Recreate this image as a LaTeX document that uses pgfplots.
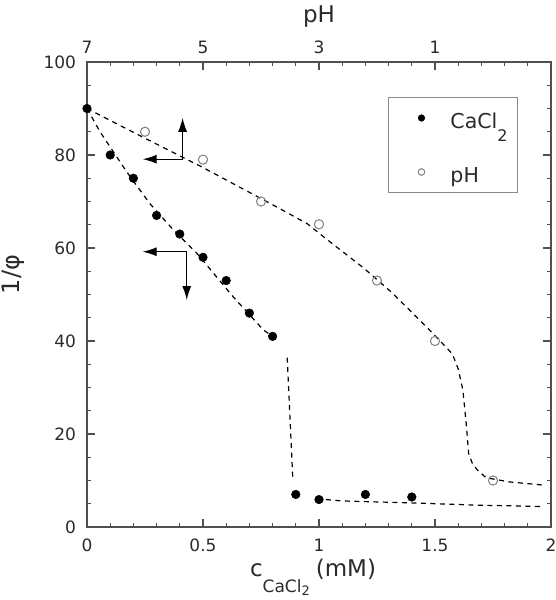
\documentclass[border=0pt]{standalone}
\usepackage{pgfplots}
\pgfplotsset{compat=1.18}
\usepackage{fontspec}
\setmainfont{DejaVu Sans}
\usetikzlibrary{arrows.meta}
\definecolor{axisgray}{HTML}{505050}
\definecolor{labelgray}{HTML}{2A2A2A}
\definecolor{circgray}{HTML}{808080}
\definecolor{leggray}{HTML}{8A8A8A}
\begin{document}
\begin{tikzpicture}
\begin{axis}[name=main,
  scale only axis, width=464pt, height=465pt,
  xmin=0, xmax=2, ymin=0, ymax=100,
  xtick={0,0.5,1,1.5,2}, xticklabels={0,0.5,1,1.5,2},
  minor xtick={0,0.1,...,2.01},
  ytick={0,20,40,60,80,100}, yticklabels={0,20,40,60,80,100},
  minor ytick={0,5,...,100},
  axis line style={line width=1.3pt, color=axisgray},
  major tick length=8pt, minor tick length=4.5pt,
  every tick/.style={line width=1.1pt, color=axisgray},
  tick label style={font=\fontsize{17}{18}\selectfont, text=labelgray},
  xticklabel style={yshift=-8.5pt},
  yticklabel style={xshift=-7.5pt},
  xlabel={c\raisebox{-16pt}{\fontsize{17}{17}\selectfont CaCl\raisebox{-3.5pt}{\fontsize{13}{13}\selectfont 2}}\hspace{6pt}(mM)},
  xlabel style={at={(axis description cs:0.5,0)}, anchor=base, yshift=-49pt, xshift=-6pt, font=\fontsize{23}{26}\selectfont, text=labelgray, inner sep=0pt},
  ylabel={1/φ},
  ylabel style={at={(axis description cs:0,0.5)}, anchor=center, yshift=74pt, xshift=20pt, font=\fontsize{24}{26}\selectfont, text=labelgray, inner sep=0pt},
  legend style={draw=leggray, line width=1pt, fill=white,
    at={(0.6487,0.9247)}, anchor=north west,
    inner sep=0pt, row sep=0pt,
    nodes={inner sep=0pt, font=\fontsize{20.5}{22}\selectfont, text=labelgray},
    font=\fontsize{20.5}{22}\selectfont},
  legend image code/.code={\path[draw=none] (0pt,0pt) (62pt,0pt); \draw[#1, mark size=3.3pt] plot coordinates {(33pt,10.5pt)};},
  clip=false,
]
% fitted dashed lines
\addplot[black, line width=1.2pt, dash pattern=on 5pt off 4.5pt, forget plot] coordinates {
 (0,90) (0.056,85) (0.171,76.4) (0.27,69.6) (0.372,63.9) (0.473,58.9) (0.63,49.5) (0.76,42.4) (0.8,41)};
\addplot[black, line width=1.2pt, dash pattern=on 5pt off 4.5pt, forget plot] coordinates {
 (0.863,36.4) (0.887,10.5)};
\addplot[black, line width=1.2pt, dash pattern=on 5pt off 4.5pt, forget plot] coordinates {
 (1.03,5.9) (1.1,5.6) (1.39,5.2) (1.68,4.7) (1.97,4.4)};
\addplot[black, line width=1.2pt, dash pattern=on 5pt off 4.5pt, forget plot] coordinates {
 (0,90) (0.25,83.6) (0.5,77.3) (0.83,68.5) (0.95,65.2) (1.03,62) (1.19,55.8) (1.31,50.6) (1.46,43.2) (1.53,39.6) (1.575,37.2) (1.6,34) (1.62,29.5) (1.635,22) (1.645,15.8) (1.66,13.8) (1.68,12.4) (1.72,10.6) (1.82,9.7) (1.97,9.0)};
% arrows
\addplot[black, line width=1.2pt, -{Latex[length=14pt,width=9pt]}, forget plot] coordinates {(0.412,79.1) (0.412,88)};
\addplot[black, line width=1.2pt, -{Latex[length=14pt,width=9pt]}, forget plot] coordinates {(0.412,79.1) (0.24,79.1)};
\addplot[black, line width=1.2pt, -{Latex[length=14pt,width=9pt]}, forget plot] coordinates {(0.43,59.2) (0.24,59.2)};
\addplot[black, line width=1.2pt, -{Latex[length=14pt,width=9pt]}, forget plot] coordinates {(0.43,59.2) (0.43,48.8)};
% data
\addplot[only marks, mark=*, mark size=4.3pt, mark options={fill=black, draw=black, line width=0.5pt}] coordinates {
 (0,90) (0.1,80) (0.2,75) (0.3,67) (0.4,63) (0.5,58) (0.6,53) (0.7,46) (0.8,41)
 (0.9,7) (1.0,5.9) (1.2,7) (1.4,6.45)};
\addlegendentry[anchor=base west, text height=31pt, text depth=22pt, text width=67pt, align=left]{CaCl\raisebox{-13pt}{\fontsize{16}{16}\selectfont 2}}
\addplot[only marks, mark=o, mark size=4.6pt, mark options={draw=circgray, fill=white, line width=1pt}] coordinates {
 (0.25,85) (0.5,79) (0.75,70) (1.0,65.1) (1.25,53) (1.5,40) (1.75,10)};
\addlegendentry[anchor=base west, text height=32pt, text depth=10pt, text width=67pt, align=left]{pH}
\end{axis}
\begin{axis}[
  scale only axis, width=464pt, height=465pt,
  xmin=0, xmax=2, ymin=0, ymax=100,
  axis x line*=top, axis y line=none,
  axis line style={draw=none},
  xtick={0,0.5,1,1.5}, xticklabels={7,5,3,1},
  xtick style={draw=none},
  tick label style={font=\fontsize{17}{18}\selectfont, text=labelgray},
  xticklabel style={yshift=4.5pt},
  xlabel={pH},
  xlabel style={at={(axis description cs:0.5,1)}, anchor=base, yshift=39pt, font=\fontsize{23}{26}\selectfont, text=labelgray, inner sep=0pt},
]
\addplot[draw=none, forget plot] coordinates {(0,0)};
\end{axis}
\pgfresetboundingbox
\useasboundingbox ([shift={(-87pt,-73pt)}]main.south west) rectangle ([shift={(5pt,62pt)}]main.north east);
\end{tikzpicture}
\end{document}
